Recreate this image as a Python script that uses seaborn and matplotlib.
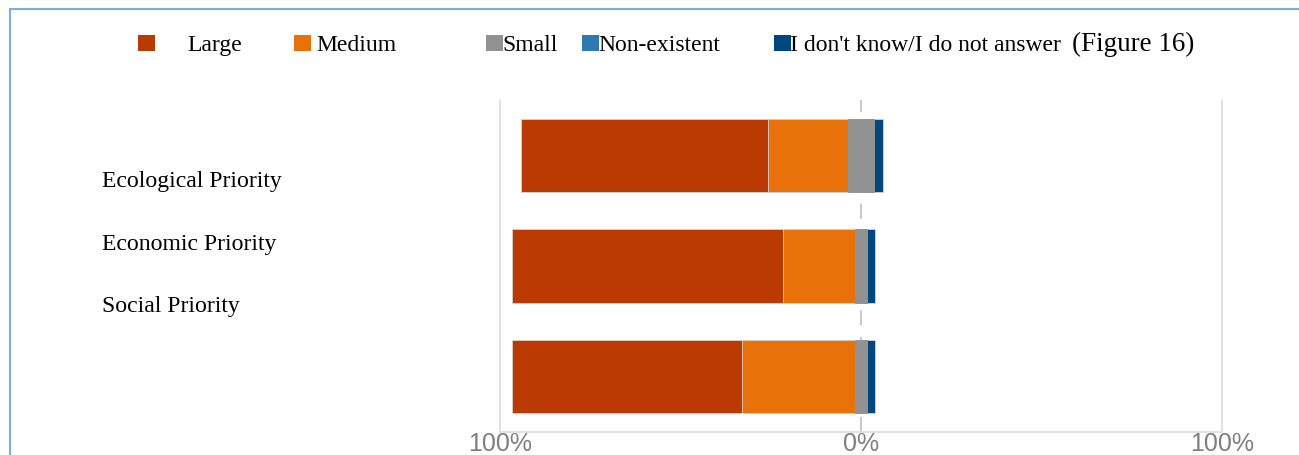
import numpy as np
import pandas as pd
import matplotlib.pyplot as plt
import seaborn as sns
from matplotlib import font_manager
from matplotlib.patches import Rectangle
from matplotlib.lines import Line2D

# Survey shares (%)
categories = ["Ecological Priority", "Economic Priority", "Social Priority"]
large = [68.2, 75.0, 63.7]
medium = [22.2, 20.1, 31.4]
small = [7.4, 3.2, 3.2]
non_existent = [0.0, 0.0, 0.0]
dont_know = [2.3, 2.4, 2.4]

answers = ["Large", "Medium", "Small", "Non-existent", "I don't know/I do not answer"]
colors = ["#BA3A02", "#E97109", "#929292", "#2E7AB0", "#00467F"]
tick_labels = ["100%", "0%", "100%"]

df = pd.DataFrame({"Priority": categories, "Large": large, "Medium": medium,
                   "Small": small, "Non-existent": non_existent, "DK": dont_know})

# diverging layout: Small is split around 0
df["neg_large"] = -(df["Large"] + df["Medium"] + df["Small"] / 2)
df["neg_medium"] = -(df["Medium"] + df["Small"] / 2)
df["neg_small"] = -(df["Small"] / 2)
df["pos_dk"] = df["Small"] / 2 + df["Non-existent"] + df["DK"]
df["pos_non"] = df["Small"] / 2 + df["Non-existent"]
df["pos_small"] = df["Small"] / 2

W, H = 1299, 455
fig = plt.figure(figsize=(W / 100, H / 100), dpi=100)
sns.set_style("white")
ax = fig.add_axes([500 / W, 1 - 432 / H, 722 / W, 332 / H])

ax.axvline(0, color="#bfbfbf", lw=1.2, ls=(0, (9, 7)), zorder=0)
for xv in (-100, 100):
    ax.axvline(xv, color="#dcdcdc", lw=1.2, zorder=0, clip_on=False)

layers = [("neg_large", colors[0], "#d4d4d4"), ("neg_medium", colors[1], "#d4d4d4"),
          ("neg_small", colors[2], colors[2]), ("pos_dk", colors[4], "#d4d4d4"),
          ("pos_non", colors[3], colors[2]), ("pos_small", colors[2], colors[2])]
for col, c, ec in layers:
    sns.barplot(data=df, x=col, y="Priority", orient="h", color=c, saturation=1,
                width=0.66, edgecolor=ec, linewidth=0.6, ax=ax, zorder=2)

# narrow sans for the axis ticks if available
have = {f.name for f in font_manager.fontManager.ttflist}
tick_font = "Liberation Sans Narrow" if "Liberation Sans Narrow" in have else "Liberation Sans"

ax.set_xlim(-100, 100)
ax.set_ylim(2.5, -0.5)
ax.set_xlabel("")
ax.set_ylabel("")
ax.set_yticks([])
ax.set_xticks([-100, 0, 100])
ax.set_xticklabels(tick_labels, fontsize=18, color="#7f7f7f", family=tick_font)
ax.tick_params(axis="x", length=0, pad=0)
for s in ["top", "left", "right"]:
    ax.spines[s].set_visible(False)
ax.spines["bottom"].set_color("#dcdcdc")
ax.spines["bottom"].set_linewidth(1.2)

# category labels (sit to the left, as in the source)
serif = ["Liberation Serif", "DejaVu Serif"]
for lab, yb in zip(categories, [187, 250, 312]):
    fig.text(102 / W, 1 - yb / H, lab, fontsize=17.1, family=serif, va="baseline", color="black")

# legend row
marker_x = [138, 294, 486, 582, 774]
text_x = [187, 316, 502, 598, 790]
for mx, tx, lab, c in zip(marker_x, text_x, answers, colors):
    fig.add_artist(Rectangle((mx / W, 1 - 51 / H), 16.5 / W, 16.5 / H,
                             transform=fig.transFigure, color=c, lw=0))
    fig.text(tx / W, 1 - 51 / H, lab, fontsize=17, family=serif, va="baseline", color="black")
fig.text(1072 / W, 1 - 51 / H, "(Figure 16)", fontsize=19.5, family=serif,
         va="baseline", color="black")

# light blue frame
fig.add_artist(Line2D([10 / W, 10 / W], [0, 1 - 9 / H], transform=fig.transFigure,
                      color="#7AAEDC", lw=1.5))
fig.add_artist(Line2D([10 / W, 1], [1 - 9 / H, 1 - 9 / H], transform=fig.transFigure,
                      color="#7AAEDC", lw=1.5))

fig.savefig("out.png", dpi=100)
